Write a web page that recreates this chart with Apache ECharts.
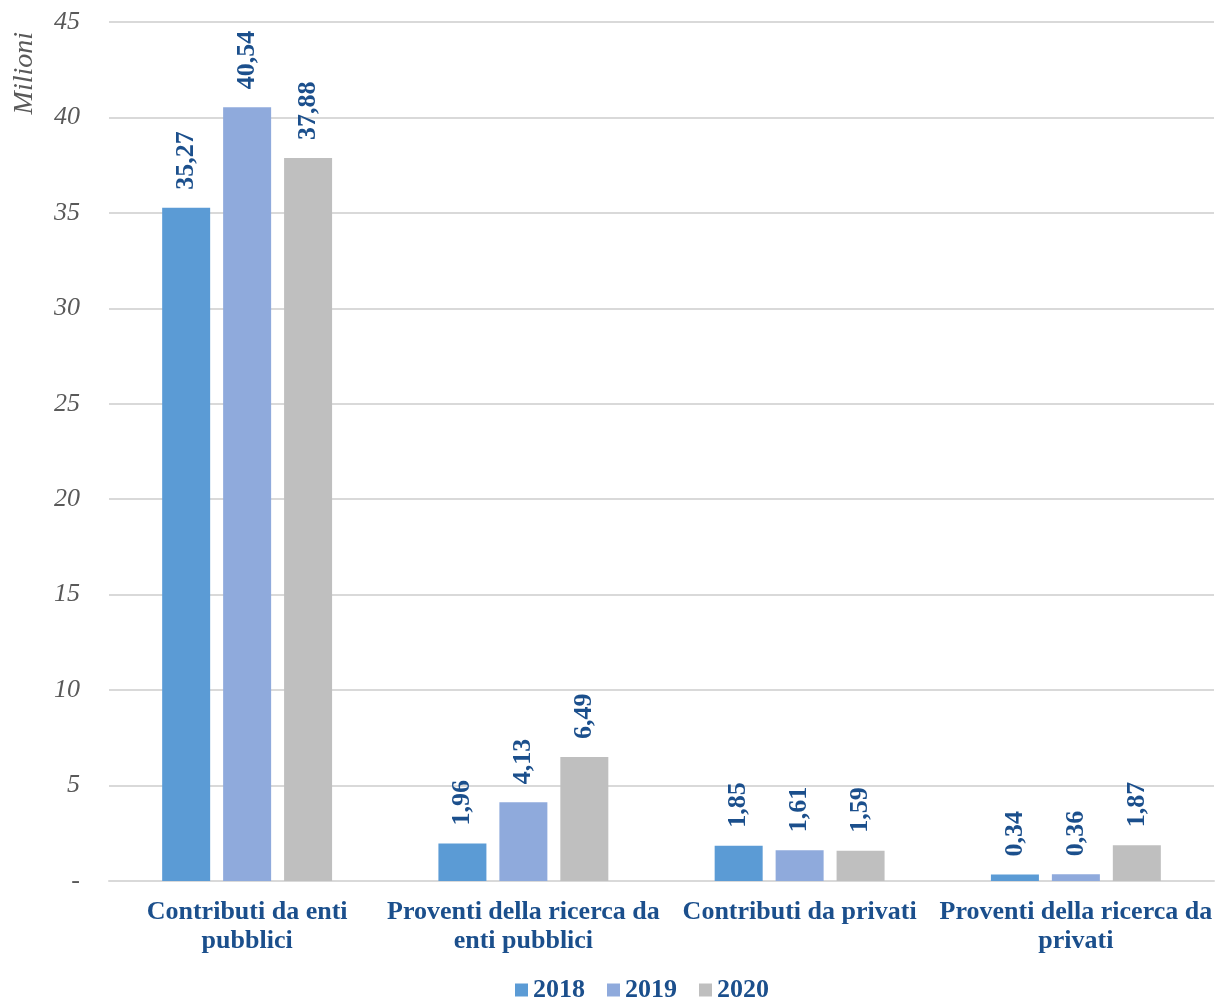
<!DOCTYPE html>
<html>
<head>
<meta charset="utf-8">
<script src="https://cdn.jsdelivr.net/npm/echarts@6/dist/echarts.min.js"></script>
<style>html,body{margin:0;padding:0;background:#fff;}#c{width:1216px;height:1000px;}</style>
</head>
<body>
<div id="c"></div>
<script>
const categories = ["Contributi da enti\npubblici", "Proventi della ricerca da\nenti pubblici", "Contributi da privati", "Proventi della ricerca da\nprivati"];
const seriesNames = ["2018", "2019", "2020"];
const values2018 = [35.27, 1.96, 1.85, 0.34];
const values2019 = [40.54, 4.13, 1.61, 0.36];
const values2020 = [37.88, 6.49, 1.59, 1.87];
const colors = ["#5B9BD5", "#8FAADC", "#BFBFBF"];

const FONT = "'Liberation Serif', 'Times New Roman', serif";
const LABEL_COLOR = "#1B4F8C";

const chart = echarts.init(document.getElementById('c'));
const allValues = [values2018, values2019, values2020];
chart.setOption({
  animation: false,
  color: colors,
  textStyle: { fontFamily: FONT },
  grid: { left: 109, right: 2, top: 22, bottom: 119 },
  legend: {
    top: 972, left: 510,
    itemWidth: 13, itemHeight: 13, itemGap: 22,
    icon: 'rect',
    textStyle: { fontFamily: FONT, fontWeight: 'bold', fontSize: 26, color: LABEL_COLOR },
    data: seriesNames
  },
  graphic: [{
    type: 'text', left: 11, top: 32, rotation: Math.PI / 2,
    style: { text: 'Milioni', font: "italic 28px 'Liberation Serif', serif", fill: '#595959' }
  }],
  xAxis: {
    type: 'category',
    data: categories,
    axisLine: { lineStyle: { color: '#D9D9D9', width: 2 } },
    axisTick: { show: false },
    axisLabel: { fontFamily: FONT, fontWeight: 'bold', fontSize: 26, color: LABEL_COLOR, lineHeight: 29, margin: 17, interval: 0 }
  },
  yAxis: {
    type: 'value', min: 0, max: 45, interval: 5,
    axisLine: { show: false }, axisTick: { show: false },
    splitLine: { lineStyle: { color: '#D9D9D9', width: 2 } },
    axisLabel: {
      fontFamily: FONT, fontStyle: 'italic', fontSize: 26, color: '#595959', margin: 29,
      formatter: v => v === 0 ? '-' : String(v)
    }
  },
  series: seriesNames.map((name, i) => ({
    name, type: 'bar', data: allValues[i],
    barWidth: 48, barGap: '27%',
    label: {
      show: true, position: 'top', rotate: 90, align: 'left', verticalAlign: 'middle', distance: 18,
      fontFamily: FONT, fontWeight: 'bold', fontSize: 26, color: LABEL_COLOR,
      formatter: p => p.value.toFixed(2).replace('.', ',')
    }
  }))
});
</script>
</body>
</html>
